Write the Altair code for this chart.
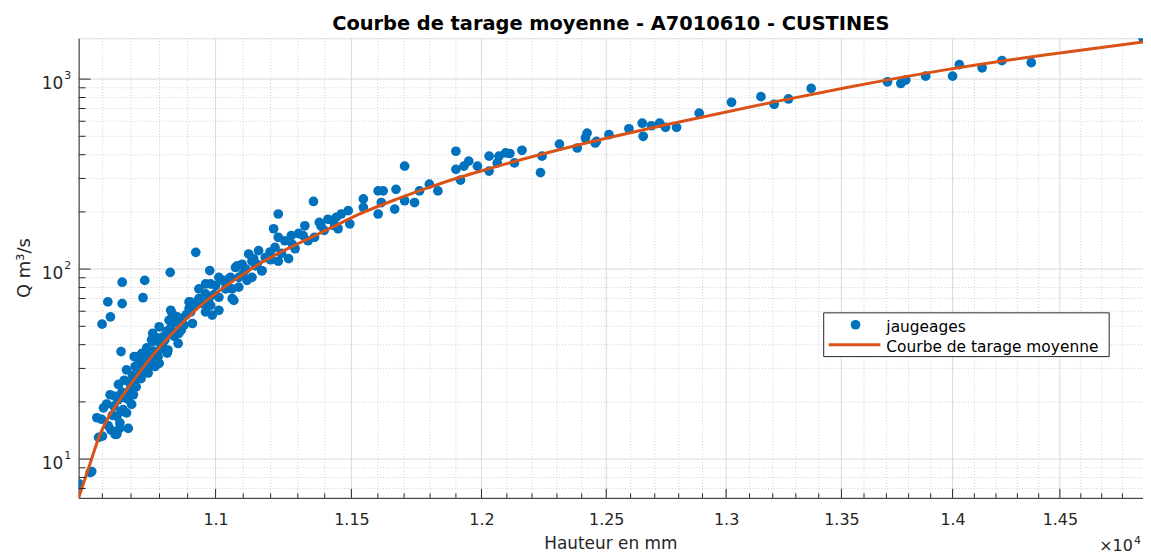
import altair as alt
import pandas as pd

# ---------------- data ----------------
# jaugeages (gaugings): water height (mm) and discharge (m3/s)
hauteur_jaug = [
    10520, 10558, 10563,
    10581, 10587, 10604, 10627, 10644, 10656, 10665, 10650, 10644, 10661, 10672, 10684,
    10690, 10696, 10684, 10702, 10708, 10714, 10725, 10731, 10748, 10760, 10784, 10795,
    10772, 10795, 10819, 10830, 10854, 10866, 10877,
    10620, 10635, 10668, 10676, 10700, 10720, 10740, 10770, 10738, 10755, 10805, 10690,
    10630, 10650, 10660, 10597, 10600, 10650,
    10599, 10619, 10628, 10669, 10669, 10742, 10748, 10838, 10929, 10979,
    10711, 10729, 10776, 10776, 10799, 10811, 10834, 10840, 10863, 10827, 10869, 10887,
    10852, 10799, 10905, 10911, 10940, 10940, 10964, 10964, 10982, 11000, 11012, 10988,
    11024, 11036, 11054, 11066, 11078, 11060,
    10845, 10917, 10911, 10964, 11012, 11060, 11084, 11132, 11168, 11132, 11180, 10964,
    11228, 11358, 11211, 11228, 11276, 11252, 11290, 11266, 11228, 11216, 11198, 11156,
    11150, 11168, 11138, 11120, 11096, 11072, 11084, 11114, 11048, 11012, 10982, 11326,
    11338, 11362, 11386, 11398, 11412, 11437, 11450, 11462, 11488, 11494, 11303,
    11702, 11900, 11620, 11601, 11669, 11545, 11545, 11613, 11664, 11702, 11740, 11759,
    11797, 11830, 11601, 11443, 11900, 11931, 11950, 11918, 11984, 12030, 12030, 12069,
    12062, 12095,
    12112, 12130, 12160, 12234, 12240, 12310, 12382, 12422, 12415, 12455, 12460, 12511,
    12593, 12648, 12652, 12686, 12720, 12745, 12791, 12886, 13023, 13149, 13206,
    13268, 13367, 13705, 13765, 13787, 13877, 14000, 14031, 14136, 14228, 14365, 14900,
    10615, 10640, 10655, 10665, 10680, 10695, 10705, 10718, 10728, 10735, 10745, 10752,
    10765, 10778, 10788, 10800, 10812, 10825, 10840, 10858, 10880, 10895, 10905, 10925,
    10950, 10975, 10995, 11040, 11100, 11110, 11145, 11200, 11240, 11280, 11320, 11380,
    11430,
]
debit_jaug = [
    7.4, 8.5, 8.6,
    16.5, 13.0, 18.6, 21.8, 21.4, 24.7, 36.8, 16.8, 13.5, 15.5, 18.2, 17.5,
    20.6, 25.1, 29.5, 19.4, 21.8, 30.7, 34.6, 28.4, 32.6, 28.4, 30.7, 34.6,
    42.4, 43.3, 42.4, 37.5, 45.0, 40.6, 47.7,
    15.0, 17.0, 22.5, 26.0, 23.5, 26.5, 30.0, 33.5, 36.0, 38.5, 38.0, 14.5,
    14.2, 13.7, 14.5, 16.2, 13.2, 13.5,
    51.3, 67.2, 56.0, 85.3, 65.8, 70.7, 87.2, 96.1, 122.5, 98.2,
    34.6, 32.6, 45.9, 41.6, 49.7, 39.8, 53.8, 60.7, 56.0, 36.1, 45.9, 50.7,
    44.3, 31.9, 67.2, 59.5, 78.7, 69.9, 74.1, 59.5, 64.4, 81.9, 71.1, 57.2,
    87.2, 78.7, 90.5, 68.5, 104, 78.7,
    58.3, 51.7, 67.0, 65.8, 60.7, 69.9, 80.4, 90.5, 98.0, 110, 115, 83.5,
    195, 227, 163, 147, 150, 141, 128, 113.5, 110, 130, 123, 125,
    106, 98, 113.5, 120, 106, 102, 90.5, 87.2, 89, 90.5, 83.5, 169,
    141, 147, 169, 160, 183, 169, 163, 195, 203, 173, 154,
    348, 417, 258, 258, 263, 234, 211, 224, 207, 229, 224, 258,
    280, 258, 195, 187, 335, 348, 370, 294, 348, 328, 393, 393,
    362, 409,
    406, 362, 422, 322, 393, 455, 434, 520, 490, 461, 470, 510,
    548, 586, 500, 568, 586, 557, 557, 662, 755, 808, 737,
    786, 893, 968, 948, 988, 1036, 1036, 1192, 1146, 1250, 1221, 1640,
    19.5, 19.0, 20.5, 17.8, 21.0, 23.0, 27.5, 24.0, 31.0, 26.5, 29.0, 35.0,
    31.5, 37.0, 35.5, 41.0, 44.0, 47.0, 49.0, 52.5, 55.0, 57.5, 62.0, 64.0,
    66.0, 69.0, 73.5, 82.5, 95.0, 100, 104, 112, 121, 135, 150, 176,
    180,
]

# courbe de tarage moyenne (mean rating curve)
hauteur_courbe = [10518, 10555, 10590, 10617, 10648, 10703, 10764, 10834, 10941, 11012,
                  11084, 11181, 11302, 11425, 11525, 11675, 11791, 11906, 12023, 12381,
                  12792, 13212, 13518, 13967, 14428, 14900]
debit_courbe = [6.25, 9.23, 13.25, 16.2, 19.2, 25.3, 33.4, 44.0, 63.2, 76.6,
                90.6, 111.2, 136.3, 165.3, 193.3, 234.3, 267.4, 301.6, 336.0, 448.4,
                591.3, 761.1, 900.9, 1118.5, 1339.5, 1566]

x_tick_values = [11000, 11500, 12000, 12500, 13000, 13500, 14000, 14500]
x_tick_labels = ['1.1', '1.15', '1.2', '1.25', '1.3', '1.35', '1.4', '1.45']
x_minor_values = [v for v in range(10600, 14900, 100) if v % 500 != 0]
y_tick_values = [10, 100, 1000]
y_tick_base = ['10', '10', '10']
y_tick_expo = ['1', '2', '3']
y_minor_values = [7, 8, 9, 20, 30, 40, 50, 60, 70, 80, 90,
                  200, 300, 400, 500, 600, 700, 800, 900]

legend_labels = ['jaugeages', 'Courbe de tarage moyenne']
titre = 'Courbe de tarage moyenne - A7010610 - CUSTINES'
x_titre = 'Hauteur en mm'
y_titre = 'Q m³/s'
x_mult = '×10'
x_mult_expo = '4'

X_DOMAIN = [10518, 14900]
Y_DOMAIN = [6.25, 1640]

# ---------------- styling ----------------
W, H = 1070, 462
FONT = 'DejaVu Sans'
BLUE = '#0072BD'
ORANGE = '#D95319'
AXC = '#262626'
GRID = '#d9d9d9'
MGRID = '#cfcfcf'
PT = 95


def label_expr(values, labels):
    expr = "''"
    for v, l in zip(values, labels):
        expr = f"datum.value == {v} ? '{l}' : ({expr})"
    return expr


xscale = alt.Scale(type='log', domain=X_DOMAIN, nice=False)
yscale = alt.Scale(type='log', domain=Y_DOMAIN, nice=False)

xaxis = alt.Axis(values=x_tick_values, labelExpr=label_expr(x_tick_values, x_tick_labels),
                 ticks=False, tickSize=0, grid=False, domain=True, domainColor=AXC,
                 domainWidth=1, labelFont=FONT, labelFontSize=16, labelColor=AXC,
                 labelPadding=14, labelFlush=False, labelOverlap=False, title=None)
yaxis = alt.Axis(values=y_tick_values, labelExpr=label_expr(y_tick_values, y_tick_base),
                 ticks=False, tickSize=0, grid=False, domain=True, domainColor=AXC,
                 domainWidth=1, labelFont=FONT, labelFontSize=17, labelColor=AXC,
                 labelPadding=16, labelFlush=False, labelOverlap=False, labelOffset=4,
                 title=None)


def X(field):
    return alt.X(field, type='quantitative', scale=xscale, axis=xaxis)


def Y(field):
    return alt.Y(field, type='quantitative', scale=yscale, axis=yaxis)


def txt(s, **kw):
    return alt.Chart(pd.DataFrame({'t': [s]})).mark_text(font=FONT, **kw)


df_j = pd.DataFrame({'h': hauteur_jaug, 'q': debit_jaug})
df_c = pd.DataFrame({'h': hauteur_courbe, 'q': debit_courbe})
df_xmaj = pd.DataFrame({'v': x_tick_values})
df_xmin = pd.DataFrame({'v': x_minor_values})
df_ymaj = pd.DataFrame({'v': y_tick_values, 'e': y_tick_expo})
df_ymin = pd.DataFrame({'v': y_minor_values})

xgrid_min = alt.Chart(df_xmin).mark_rule(color=MGRID, strokeWidth=1, strokeDash=[1, 2]).encode(
    x=X('v'), y=alt.value(0), y2=alt.value(H))
xgrid_maj = alt.Chart(df_xmaj).mark_rule(color=GRID, strokeWidth=1).encode(
    x=X('v'), y=alt.value(0), y2=alt.value(H))
ygrid_min = alt.Chart(df_ymin).mark_rule(color=MGRID, strokeWidth=1, strokeDash=[1, 2]).encode(
    y=Y('v'), x=alt.value(0), x2=alt.value(W))
ygrid_maj = alt.Chart(df_ymaj).mark_rule(color=GRID, strokeWidth=1).encode(
    y=Y('v'), x=alt.value(0), x2=alt.value(W))

points = alt.Chart(df_j).mark_point(filled=True, size=PT, color=BLUE, opacity=1, clip=True).encode(
    x=X('h'), y=Y('q'))
courbe = alt.Chart(df_c).mark_line(color=ORANGE, strokeWidth=3, interpolate='monotone', clip=True).encode(
    x=X('h'), y=Y('q'))

xt_maj = alt.Chart(df_xmaj).mark_rule(color=AXC, strokeWidth=1).encode(
    x=X('v'), y=alt.value(H), y2=alt.value(H - 9))
xt_min = alt.Chart(df_xmin).mark_rule(color=AXC, strokeWidth=1).encode(
    x=X('v'), y=alt.value(H), y2=alt.value(H - 4.5))
yt_maj = alt.Chart(df_ymaj).mark_rule(color=AXC, strokeWidth=1).encode(
    y=Y('v'), x=alt.value(0), x2=alt.value(12))
yt_min = alt.Chart(df_ymin).mark_rule(color=AXC, strokeWidth=1).encode(
    y=Y('v'), x=alt.value(0), x2=alt.value(7))

# exponents of the y tick labels (10^1, 10^2, 10^3)
y_expo = alt.Chart(df_ymaj).mark_text(font=FONT, fontSize=11, color=AXC, align='left',
                                      baseline='middle', dy=-3).encode(
    y=Y('v'), x=alt.value(-14.5), text='e:N')

# texts
t_title = txt(titre, fontSize=19.5, fontWeight='bold', color='#000000', align='center',
              baseline='alphabetic').encode(x=alt.value(W / 2), y=alt.value(-8), text='t:N')
t_xtitle = txt(x_titre, fontSize=17, color=AXC, align='center', baseline='alphabetic').encode(
    x=alt.value(W / 2), y=alt.value(513), text='t:N')
t_ytitle = txt(y_titre, fontSize=18, color=AXC, align='center', baseline='middle',
               angle=270).encode(x=alt.value(-54), y=alt.value(H / 2), text='t:N')
t_mult = txt(x_mult, fontSize=16, color=AXC, align='left', baseline='alphabetic').encode(
    x=alt.value(1026), y=alt.value(515), text='t:N')
t_mult_e = txt(x_mult_expo, fontSize=11, color=AXC, align='left', baseline='alphabetic').encode(
    x=alt.value(1061), y=alt.value(508), text='t:N')

# legend (drawn inside the plot area, like the original)
one = pd.DataFrame({'k': [0]})
leg_box = alt.Chart(one).mark_rect(fill='white', stroke=AXC, strokeWidth=1).encode(
    x=alt.value(749), x2=alt.value(1036), y=alt.value(276), y2=alt.value(320))
leg_dot = alt.Chart(one).mark_point(filled=True, size=PT, color=BLUE, opacity=1).encode(
    x=alt.value(781), y=alt.value(288))
leg_line = alt.Chart(one).mark_rule(color=ORANGE, strokeWidth=3).encode(
    x=alt.value(754), x2=alt.value(806), y=alt.value(308))
leg_t1 = txt(legend_labels[0], align='left', baseline='alphabetic', fontSize=15.5,
             color='#000000').encode(x=alt.value(812), y=alt.value(295), text='t:N')
leg_t2 = txt(legend_labels[1], align='left', baseline='alphabetic', fontSize=15.5,
             color='#000000').encode(x=alt.value(812), y=alt.value(315), text='t:N')

chart = alt.layer(
    xgrid_min, xgrid_maj, ygrid_min, ygrid_maj,
    points, courbe,
    xt_min, xt_maj, yt_min, yt_maj, y_expo,
    leg_box, leg_dot, leg_line, leg_t1, leg_t2,
    t_title, t_xtitle, t_ytitle, t_mult, t_mult_e,
).properties(
    width=W, height=H,
    autosize=alt.AutoSizeParams(type='none'),
    padding={'left': 71, 'top': 29, 'right': 0, 'bottom': 56},
).configure_view(stroke=None).configure(background='white')

chart.save('out.html', embed_options={'renderer': 'svg', 'actions': False})
